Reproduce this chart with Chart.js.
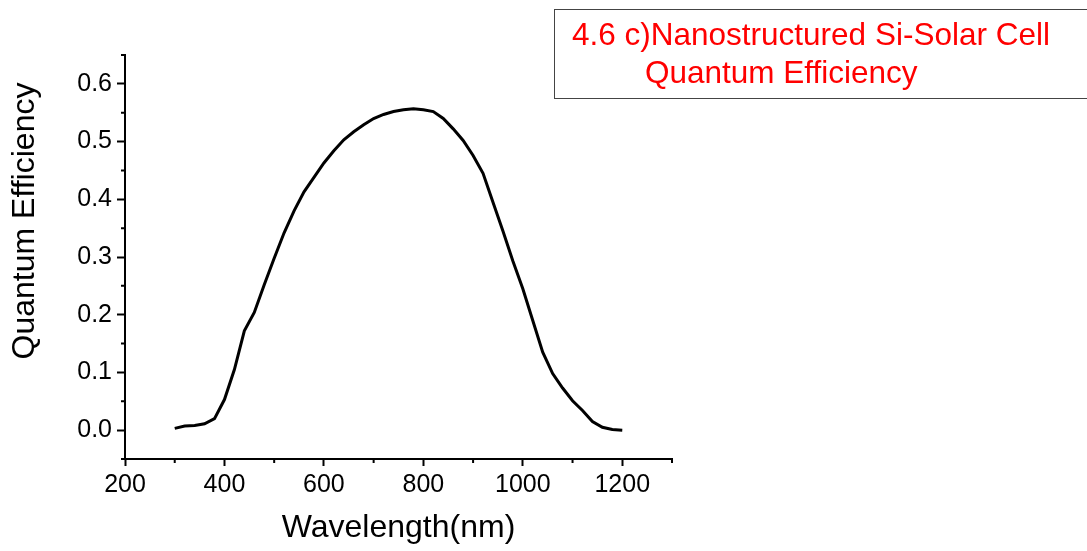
<!DOCTYPE html>
<html>
<head>
<meta charset="utf-8">
<script src="https://cdn.jsdelivr.net/npm/chart.js@4"></script>
<style>
  body { margin: 0; background: #fff; }
  #wrap { position: relative; width: 1087px; height: 551px; }
  #titleBox {
    position: absolute; left: 554px; top: 9px; width: 560px; height: 90px;
    border: 1.5px solid #444; box-sizing: border-box;
    font-family: "Liberation Sans", Arial, sans-serif; font-size: 31.5px; line-height: 38px; color: #ff0000;
  }
  #titleBox div { position: absolute; white-space: pre; }
</style>
</head>
<body>
<div id="wrap">
  <canvas id="chartQE"></canvas>
  <div id="titleBox">
    <div style="left:17px; top:5px;">4.6 c)Nanostructured Si-Solar Cell</div>
    <div style="left:90px; top:43px;">Quantum Efficiency</div>
  </div>
</div>
<script>
  // Longitud de onda (nm) y eficiencia cuántica medida
  const wavelength = [300, 320, 340, 360, 380, 400, 420, 440, 460, 480, 500, 520, 540, 560, 580, 600,
    620, 640, 660, 680, 700, 720, 740, 760, 780, 800, 820, 840, 860, 880, 900, 920, 940, 960, 980,
    1000, 1020, 1040, 1060, 1080, 1100, 1120, 1140, 1160, 1180, 1200];
  const efficiency = [0.003, 0.007, 0.008, 0.011, 0.020, 0.053, 0.105, 0.172, 0.204, 0.252, 0.298,
    0.342, 0.380, 0.413, 0.438, 0.463, 0.484, 0.503, 0.517, 0.529, 0.540, 0.547, 0.552, 0.555, 0.557,
    0.555, 0.552, 0.540, 0.522, 0.502, 0.476, 0.445, 0.395, 0.345, 0.293, 0.245, 0.190, 0.135, 0.098,
    0.073, 0.051, 0.034, 0.015, 0.005, 0.001, 0.000];

  const xTicks = [200, 400, 600, 800, 1000, 1200];
  const yTicks = [0.0, 0.1, 0.2, 0.3, 0.4, 0.5, 0.6];
  const xMinor = [300, 500, 700, 900, 1100, 1300];
  const yMinor = [-0.05, 0.05, 0.15, 0.25, 0.35, 0.45, 0.55, 0.65];

  const FONT = '"Liberation Sans", Arial, sans-serif';

  // marcas menores (más cortas) y título del eje Y, algo desplazado hacia arriba
  const extras = {
    id: 'extras',
    afterDraw(chart) {
      const ctx = chart.ctx, x = chart.scales.x, y = chart.scales.y;
      ctx.save();
      ctx.strokeStyle = '#000';
      ctx.lineWidth = 2;
      ctx.beginPath();
      xMinor.forEach(v => {
        const px = x.getPixelForValue(v);
        ctx.moveTo(px, x.top);
        ctx.lineTo(px, x.top + 4);
      });
      yMinor.forEach(v => {
        const py = y.getPixelForValue(v);
        ctx.moveTo(y.right, py);
        ctx.lineTo(y.right - 4, py);
      });
      ctx.stroke();

      ctx.translate(25, 221);
      ctx.rotate(-Math.PI / 2);
      ctx.fillStyle = '#000';
      ctx.font = '32px ' + FONT;
      ctx.textAlign = 'center';
      ctx.textBaseline = 'middle';
      ctx.fillText('Quantum Efficiency', 0, 0);
      ctx.restore();
    }
  };

  const ctxQE = document.getElementById('chartQE').getContext('2d');
  new Chart(ctxQE, {
    type: 'line',
    data: {
      datasets: [{
        data: wavelength.map((w, i) => ({ x: w, y: efficiency[i] })),
        borderColor: '#000',
        borderWidth: 3,
        pointRadius: 0,
        tension: 0,
        fill: false
      }]
    },
    options: {
      responsive: true,
      maintainAspectRatio: false,
      animation: false,
      layout: { padding: { left: 0, right: 415, top: 55, bottom: 0 } },
      plugins: {
        legend: { display: false },
        tooltip: { enabled: false }
      },
      scales: {
        x: {
          type: 'linear',
          min: 200,
          max: 1300,
          afterBuildTicks: s => { s.ticks = xTicks.map(v => ({ value: v })); },
          afterFit: s => { s.height = 92; },
          ticks: { color: '#000', font: { family: FONT, size: 25 }, padding: 4, maxRotation: 0, callback: v => String(v) },
          grid: { drawOnChartArea: false, tickLength: 7, tickWidth: 2, tickColor: '#000' },
          border: { color: '#000', width: 2 },
          title: { display: true, text: 'Wavelength(nm)', color: '#000', font: { family: FONT, size: 32 }, padding: { top: 0, bottom: 4 } }
        },
        y: {
          min: -0.05,
          max: 0.65,
          afterBuildTicks: s => { s.ticks = yTicks.map(v => ({ value: v })); },
          afterFit: s => { s.width = 125; },
          ticks: { color: '#000', font: { family: FONT, size: 25 }, padding: 5, callback: v => v.toFixed(1) },
          grid: { drawOnChartArea: false, tickLength: 8, tickWidth: 2, tickColor: '#000' },
          border: { color: '#000', width: 2 },
          title: { display: false }
        }
      }
    },
    plugins: [extras]
  });
</script>
</body>
</html>
